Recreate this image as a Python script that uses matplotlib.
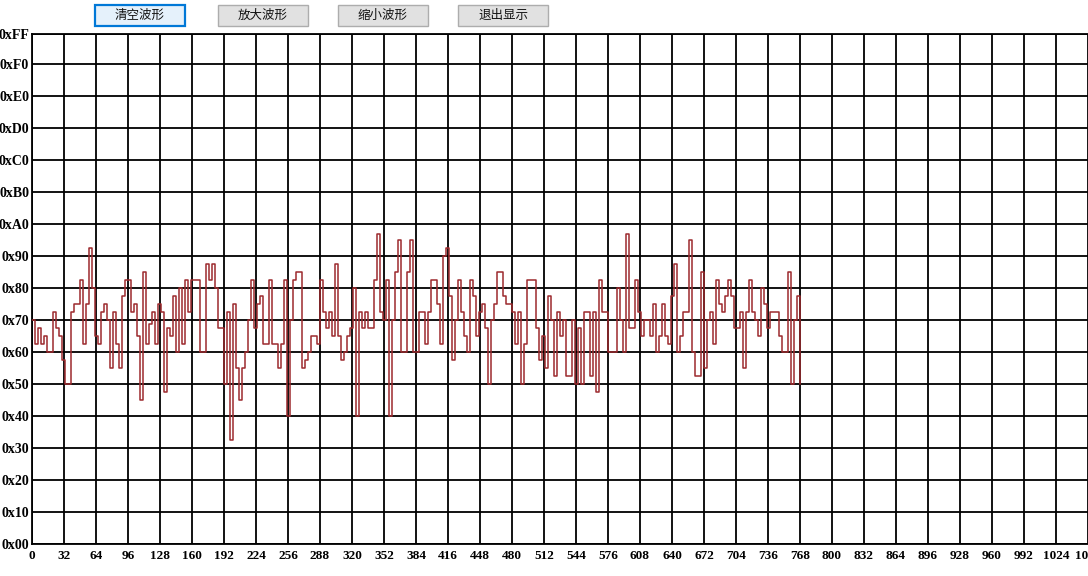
import matplotlib
matplotlib.use("Agg")
import matplotlib.pyplot as plt
from matplotlib.patches import Rectangle
import numpy as np

# ---- data ----
sample_step = 3
values = [
    112, 100, 108, 100, 104, 96, 96, 116, 108, 104, 92, 80, 80,
    116, 120, 120, 132, 100, 120, 148, 128, 104, 100,
    116, 120, 112, 88, 116, 100, 88,
    124, 132, 132, 116, 120, 104, 72,
    136, 100, 110, 116, 100, 120, 116, 76, 108, 104,
    124, 96, 128, 100, 132, 116, 132, 132, 132, 96, 96, 140, 132, 140, 128, 108, 108,
    80, 116, 52, 120, 88, 72, 88, 96, 112, 132, 108, 120, 124, 100, 100, 132,
    100, 100, 88, 100, 132, 64, 112, 132, 136, 136, 88, 92, 96, 104, 104, 100,
    132, 116, 108, 116, 104, 140, 104, 92, 96, 104, 108, 128, 64, 116, 108, 116,
    108, 108, 132, 155, 116, 112, 132, 64, 112, 136, 152, 96, 96, 136, 152, 96,
    96, 116, 116, 100, 116, 132, 132, 120, 100, 144, 148, 124, 92, 112, 132, 116,
    104, 96, 132, 124, 104, 116, 120, 108, 80, 112, 120, 136, 136, 124, 120, 120,
    116, 100, 116, 80, 100, 132, 132, 132, 108, 92, 104, 88, 124, 112, 84, 116,
    104, 112, 84, 84, 112, 80, 108, 80, 116, 116, 84, 116, 76, 132, 116, 116,
    96, 96, 96, 128, 112, 96, 155, 108, 108, 132, 116, 104, 112, 112, 104, 120,
    96, 104, 120, 104, 100, 124, 140, 96, 104, 116, 116, 152, 96, 84, 84, 136,
    88, 112, 116, 100, 132, 120, 116, 124, 132, 124, 108, 108, 116, 88, 116, 132,
    116, 112, 104, 128, 120, 108, 116, 116, 116, 104, 96, 96, 136, 80, 112, 124,
    80,
]
xticks = list(range(0, 1057, 32))
yticks = list(range(0, 241, 16)) + [255]
ylabels = ["0x%02X" % v for v in yticks]
buttons = ["清空波形", "放大波形", "缩小波形", "退出显示"]

W, H = 1088, 576
fig = plt.figure(figsize=(W / 100, H / 100), dpi=100)
fig.patch.set_facecolor("white")

ax = fig.add_axes([32 / W, 32 / H, (W - 32) / W, 510 / H])
ax.set_xlim(0, 1056)
ax.set_ylim(0, 255)
ax.set_facecolor("white")

for xv in xticks:
    ax.axvline(xv, color="black", lw=1.3, zorder=1)
for yv in yticks:
    ax.axhline(yv, color="black", lw=1.3, zorder=1)

xs = np.arange(len(values)) * sample_step
ax.plot(xs, values, drawstyle="steps-post", color="#9c2a2e", lw=1.1, zorder=3)

ax.set_xticks(xticks)
ax.set_xticklabels([str(v) for v in xticks], fontfamily="Liberation Serif",
                   fontweight="bold", fontsize=9.5)
ax.set_yticks(yticks)
ax.set_yticklabels(ylabels, fontfamily="Liberation Serif", fontweight="bold",
                   fontsize=10)
ax.tick_params(length=0, pad=2)
ax.tick_params(axis="x", pad=4)
for s in ["left", "bottom", "top"]:
    ax.spines[s].set_color("black")
    ax.spines[s].set_linewidth(1.3)
ax.spines["right"].set_visible(False)

# ---- buttons ----
bx = [95, 218, 338, 458]
for i, (x0, label) in enumerate(zip(bx, buttons)):
    bw, bh = 90, 21
    y0 = 5
    if i == 0:
        fc, ec, lw = "#e5f1fb", "#0078d7", 1.6
    else:
        fc, ec, lw = "#e1e1e1", "#adadad", 1.0
    r = Rectangle((x0 / W, 1 - (y0 + bh) / H), bw / W, bh / H,
                  transform=fig.transFigure, facecolor=fc, edgecolor=ec, lw=lw)
    fig.patches.append(r)
    fig.text((x0 + bw / 2) / W, 1 - (y0 + bh / 2) / H, label,
             ha="center", va="center", fontsize=9,
             fontfamily=["Noto Sans CJK SC", "DejaVu Sans"], color="#111111")

fig.savefig("out.png", dpi=100)
